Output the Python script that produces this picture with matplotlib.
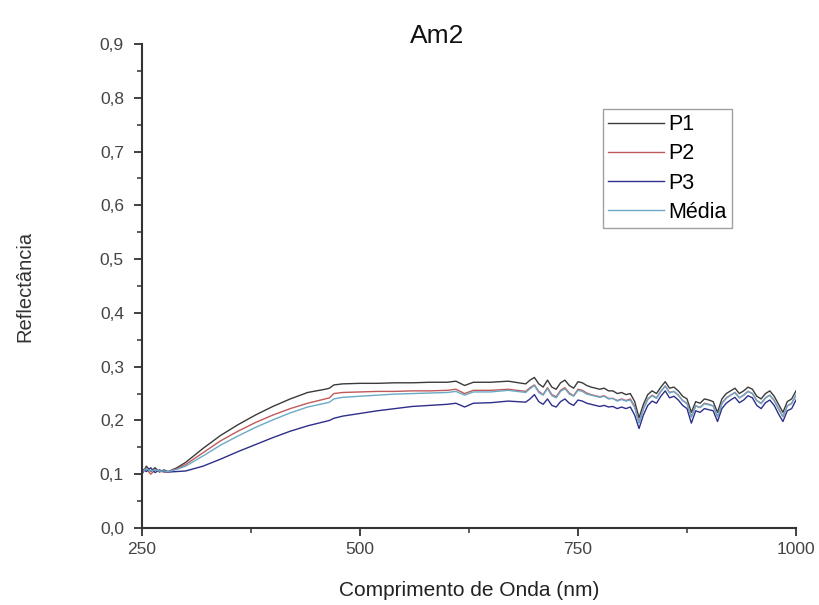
import matplotlib
matplotlib.use("Agg")
import matplotlib.pyplot as plt
from matplotlib.ticker import MultipleLocator, FuncFormatter

plt.rcParams['font.family'] = ['Liberation Sans', 'DejaVu Sans']

wavelength = [250, 255, 260, 265, 270, 275, 280, 290, 300, 320, 340, 360, 380, 400, 420, 440, 460, 465,
              470, 480, 500, 520, 540, 560, 580, 600, 610, 620, 630, 650, 670, 690,
              695, 700, 705, 710, 715, 720, 725, 730, 735, 740, 745, 750, 755, 760, 765, 770, 775, 780,
              785, 790, 795, 800, 805, 810, 815, 820, 825, 830, 835, 840, 845, 850, 855, 860, 865, 870,
              875, 880, 885, 890, 895, 900, 905, 910, 915, 920, 925, 930, 935, 940, 945, 950, 955, 960,
              965, 970, 975, 980, 985, 990, 995, 1000]

p1 = [.100, .115, .105, .112, .104, .108, .105, .112, .122, .148, .172, .192, .210, .226, .240, .252, .258, .260,
      .266, .268, .269, .269, .270, .270, .271, .271, .273, .265, .271, .271, .273, .268,
      .275, .280, .268, .262, .275, .262, .258, .270, .275, .265, .260, .272, .270, .265, .262, .260, .258, .260,
      .255, .255, .250, .252, .248, .250, .235, .205, .230, .248, .255, .250, .262, .272, .260, .262, .255, .245,
      .240, .215, .235, .232, .240, .238, .235, .215, .240, .250, .255, .260, .250, .255, .262, .258, .245, .240,
      .250, .255, .245, .230, .215, .235, .240, .255]

p2 = [.105, .110, .100, .108, .106, .104, .105, .110, .118, .140, .162, .180, .196, .210, .222, .232, .240, .242,
      .250, .252, .253, .254, .254, .255, .255, .256, .258, .250, .256, .256, .258, .254,
      .261, .266, .254, .248, .261, .248, .244, .256, .261, .251, .246, .258, .256, .251, .248, .246, .244, .246,
      .241, .241, .237, .240, .237, .240, .226, .196, .222, .240, .247, .242, .254, .264, .252, .254, .247, .237,
      .232, .207, .227, .224, .232, .230, .227, .207, .232, .242, .247, .252, .242, .247, .254, .250, .237, .232,
      .242, .247, .237, .222, .207, .227, .232, .247]

p3 = [.110, .105, .112, .103, .108, .105, .104, .105, .106, .115, .128, .142, .155, .168, .180, .190, .198, .200,
      .204, .208, .213, .218, .222, .226, .228, .230, .232, .225, .232, .233, .236, .234,
      .240, .248, .235, .230, .240, .228, .225, .235, .240, .232, .228, .238, .236, .232, .230, .228, .226, .228,
      .225, .226, .222, .225, .222, .225, .210, .185, .210, .228, .236, .232, .245, .255, .242, .245, .238, .228,
      .222, .195, .218, .215, .222, .220, .218, .198, .222, .232, .238, .243, .233, .238, .246, .242, .228, .222,
      .233, .238, .228, .212, .198, .218, .222, .238]

media = [.105, .110, .106, .108, .106, .106, .105, .109, .115, .134, .154, .171, .187, .201, .214, .225, .232, .234,
         .240, .243, .245, .247, .249, .250, .251, .252, .254, .247, .253, .253, .256, .252,
         .259, .265, .252, .247, .259, .246, .242, .254, .259, .249, .245, .256, .254, .249, .247, .245, .243, .245,
         .240, .241, .236, .239, .236, .238, .224, .195, .221, .239, .246, .241, .254, .264, .251, .254, .247, .237,
         .231, .206, .227, .224, .231, .229, .227, .207, .231, .241, .247, .252, .242, .247, .254, .250, .237, .231,
         .242, .247, .237, .221, .207, .227, .231, .247]

series_names = ["P1", "P2", "P3", "Média"]
series_colors = ["#3a3a3a", "#c05a5a", "#2e2e8c", "#6aaac8"]

fig = plt.figure(figsize=(8.19, 6.05), dpi=100)
ax = fig.add_axes([142/819, 1-528/605, 654/819, 484/605])

for vals, name, col in zip([p1, p2, p3, media], series_names, series_colors):
    ax.plot(wavelength, vals, color=col, lw=1.0, label=name)

ax.set_xlim(250, 1000)
ax.set_ylim(0, 0.9)
ax.xaxis.set_major_locator(MultipleLocator(250))
ax.xaxis.set_minor_locator(MultipleLocator(125))
ax.yaxis.set_major_locator(MultipleLocator(0.1))
ax.yaxis.set_minor_locator(MultipleLocator(0.05))
ax.yaxis.set_major_formatter(FuncFormatter(lambda v, p: f"{v:.1f}".replace('.', ',')))

for s in ['top', 'right']:
    ax.spines[s].set_visible(False)
for s in ['left', 'bottom']:
    ax.spines[s].set_linewidth(1.5)
    ax.spines[s].set_color('#333333')

ax.tick_params(which='major', direction='out', length=6, width=1.3, colors='#333333',
               labelcolor='#444444', labelsize=12.5)
ax.tick_params(which='minor', direction='out', length=3.5, width=1.1, colors='#333333')
ax.tick_params(axis='x', pad=4)
ax.tick_params(axis='y', pad=7)

ax.set_xlabel("Comprimento de Onda (nm)", fontsize=15, color='#222222', labelpad=17)
ax.set_ylabel("Reflectância", fontsize=14.5, color='#333333', labelpad=47)
fig.text(437/819, 1-36/605, "Am2", fontsize=19, color='#111111', ha='center', va='center')

leg = ax.legend(loc='upper left', bbox_to_anchor=(0.705, 0.866), fontsize=15.5,
                handlelength=2.6, handletextpad=0.2, labelspacing=0.38, frameon=True,
                fancybox=False, borderpad=0.25, borderaxespad=0)
leg.get_frame().set_edgecolor('#888888')
leg.get_frame().set_linewidth(1.0)

fig.savefig("out.png", dpi=100)
